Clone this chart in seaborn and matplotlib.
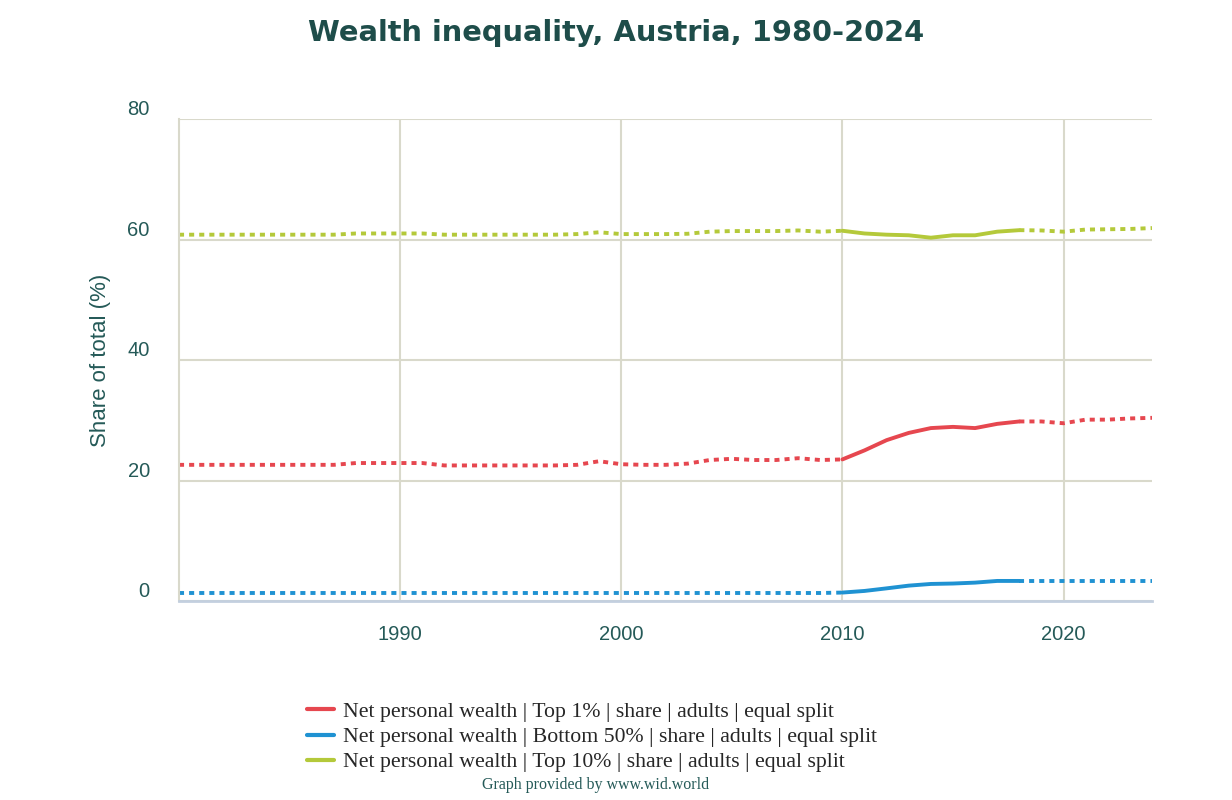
import numpy as np
import pandas as pd
import matplotlib
matplotlib.use("Agg")
import matplotlib.pyplot as plt
from matplotlib.lines import Line2D
from matplotlib.transforms import ScaledTranslation
import seaborn as sns

# data
years = list(range(1980, 2025))
top1 = [22.6, 22.6, 22.6, 22.6, 22.6, 22.6, 22.6, 22.6, 22.9, 22.9,
        22.9, 22.9, 22.5, 22.5, 22.5, 22.5, 22.5, 22.5, 22.6, 23.2,
        22.7, 22.6, 22.6, 22.8, 23.4, 23.6, 23.4, 23.4, 23.7, 23.4,
        23.5, 25.0, 26.7, 27.9, 28.7, 28.9, 28.7, 29.4, 29.8, 29.8,
        29.5, 30.1, 30.1, 30.3, 30.4]
bottom50 = [1.33] * 30 + [1.4, 1.67, 2.1, 2.55, 2.83, 2.9, 3.05, 3.33, 3.33, 3.33,
                          3.33, 3.33, 3.33, 3.33, 3.33]
top10 = [60.8, 60.8, 60.8, 60.8, 60.8, 60.8, 60.8, 60.8, 61.0, 61.0,
         61.0, 61.0, 60.8, 60.8, 60.8, 60.8, 60.8, 60.8, 60.9, 61.2,
         60.9, 60.9, 60.9, 60.95, 61.3, 61.4, 61.4, 61.4, 61.5, 61.3,
         61.45, 61.0, 60.8, 60.7, 60.3, 60.7, 60.7, 61.3, 61.55, 61.5,
         61.3, 61.65, 61.7, 61.75, 61.9]
series_labels = ["Net personal wealth | Top 1% | share | adults | equal split",
                 "Net personal wealth | Bottom 50% | share | adults | equal split",
                 "Net personal wealth | Top 10% | share | adults | equal split"]
colors = ["#e6474f", "#1f92d2", "#b4c93a"]
solid_from, solid_to = 2010, 2018

df = pd.DataFrame({"year": years, "top1": top1, "bottom50": bottom50, "top10": top10})

teal = "#255a58"
grid_c = "#d9d9cb"

sns.set_style("white")
plt.rcParams["font.family"] = ["Liberation Sans", "DejaVu Sans"]

fig = plt.figure(figsize=(12.32, 8), dpi=100)
ax = fig.add_axes([179 / 1232, 1 - 601 / 800, (1152 - 179) / 1232, (601 - 119) / 800])

# dotted outside the solid stretch, like the original
dots = (0, (1.3, 1.3))
for col, c in zip(["top1", "bottom50", "top10"], colors):
    left = df[df["year"] <= solid_from]
    mid = df[(df["year"] >= solid_from) & (df["year"] <= solid_to)]
    right = df[df["year"] >= solid_to]
    sns.lineplot(data=left, x="year", y=col, ax=ax, color=c, lw=2.8, linestyle=dots)
    sns.lineplot(data=mid, x="year", y=col, ax=ax, color=c, lw=2.8)
    sns.lineplot(data=right, x="year", y=col, ax=ax, color=c, lw=2.8, linestyle=dots)

ax.set_xlim(1980, 2024)
ax.set_ylim(0, 80)
ax.set_xticks([1990, 2000, 2010, 2020])
ax.set_yticks([0, 20, 40, 60, 80])
ax.grid(True, color=grid_c, lw=1.5)
ax.set_axisbelow(True)
for s in ["top", "right"]:
    ax.spines[s].set_visible(False)
ax.spines["left"].set_color(grid_c)
ax.spines["left"].set_linewidth(1.5)
ax.spines["bottom"].set_color("#c3cfdf")
ax.spines["bottom"].set_linewidth(2)

ax.tick_params(axis="x", colors="#c3cfdf", length=13, width=1.5, pad=4,
               labelcolor=teal, labelsize=14.5)
ax.tick_params(axis="y", length=0, pad=21, labelcolor=teal, labelsize=14.5)
for lab in ax.get_yticklabels():
    lab.set_transform(lab.get_transform() + ScaledTranslation(0, 8 / 72, fig.dpi_scale_trans))

ax.set_xlabel("")
ax.set_ylabel("Share of total (%)", color=teal, fontsize=16, labelpad=12)

fig.text(0.5, 1 - 33 / 800, "Wealth inequality, Austria, 1980-2024", ha="center", va="center",
         fontsize=20.8, fontweight="bold", color="#1e4d4a", family="DejaVu Sans")

handles = [Line2D([0], [0], color=c, lw=3) for c in colors]
fig.legend(handles, series_labels, loc="center", bbox_to_anchor=(592 / 1232, 1 - 737 / 800),
           frameon=False, prop={"family": "Liberation Serif", "size": 15.7},
           handlelength=1.25, handletextpad=0.4, labelspacing=0.22, borderpad=0)

fig.text(596 / 1232, 1 - 785 / 800, "Graph provided by www.wid.world", ha="center", va="center",
         fontsize=11.5, color=teal, family="Liberation Serif")

fig.savefig("out.png", dpi=100)
